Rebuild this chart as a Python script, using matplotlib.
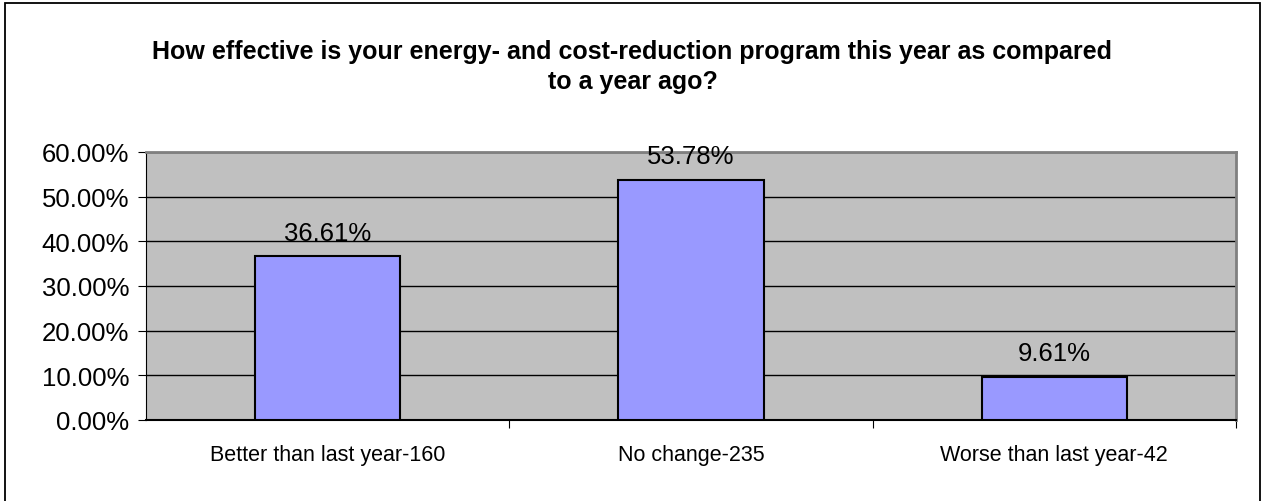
import matplotlib.pyplot as plt
from matplotlib.patches import Rectangle
from matplotlib.ticker import FuncFormatter

categories = ["Better than last year-160", "No change-235", "Worse than last year-42"]
shares = [36.61, 53.78, 9.61]
yticks = [0, 10, 20, 30, 40, 50, 60]

plt.rcParams['font.family'] = ['Liberation Sans', 'DejaVu Sans']

fig = plt.figure(figsize=(12.65, 5.02), dpi=100)
ax = fig.add_axes([146/1265, 1 - 421/502, 1090/1265, 268/502])

# outer chart border
fig.patches.append(Rectangle((5/1265, -0.01), 1255/1265, 1 - 4/502 + 0.01,
                             transform=fig.transFigure, fill=False,
                             edgecolor='black', linewidth=1.3))

x = range(len(categories))
bars = ax.bar(x, shares, width=0.4, color='#9999FF', edgecolor='black',
              linewidth=1.5, zorder=3)
for b, v in zip(bars, shares):
    ax.text(b.get_x() + b.get_width()/2, v + 2.6, f"{v:.2f}%",
            ha='center', va='bottom', fontsize=18.5, zorder=4, clip_on=False)

ax.set_facecolor('#C0C0C0')
ax.set_xlim(-0.5, 2.5)
ax.set_ylim(0, 60)
ax.set_yticks(yticks)
ax.yaxis.set_major_formatter(FuncFormatter(lambda v, p: f"{v:.2f}%"))
ax.tick_params(axis='y', labelsize=18.5, length=6, direction='out', pad=6)
ax.grid(axis='y', color='black', linewidth=1, zorder=1)

ax.set_xticks([0.5, 1.5, 2.5], minor=False)
ax.set_xticklabels([])
ax.set_xticks(list(x), minor=True)
ax.set_xticklabels(categories, minor=True)
ax.tick_params(axis='x', which='major', length=6, direction='out')
ax.tick_params(axis='x', which='minor', length=0, labelsize=15.5, pad=17)

for s in ['top', 'right']:
    ax.spines[s].set_color('#808080')
    ax.spines[s].set_linewidth(2)
ax.spines['left'].set_color('black')
ax.spines['bottom'].set_color('black')
ax.spines['bottom'].set_linewidth(1.5)

fig.text(0.5, 1 - 67/502,
         "How effective is your energy- and cost-reduction program this year as compared\nto a year ago?",
         ha='center', va='center', fontsize=18, fontweight='bold', linespacing=1.35)

fig.savefig('out.png', dpi=100)
